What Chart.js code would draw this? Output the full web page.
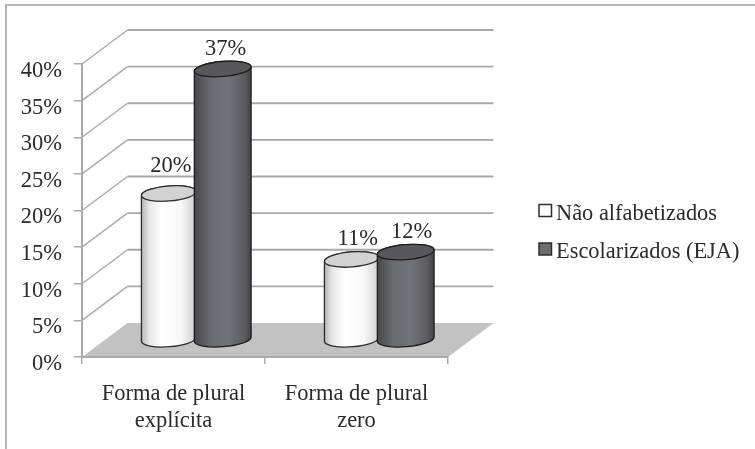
<!DOCTYPE html>
<html>
<head>
<meta charset="utf-8">
<style>
  html, body { margin: 0; padding: 0; background: #fff; }
  #wrap { width: 755px; height: 449px; }
</style>
<script src="https://cdn.jsdelivr.net/npm/chart.js@4/dist/chart.umd.js"></script>
</head>
<body>
<div id="wrap"><canvas id="barChart" width="755" height="449"></canvas></div>
<script>
const categories = [['Forma de plural', 'explícita'], ['Forma de plural', 'zero']];
const seriesNames = ['Não alfabetizados', 'Escolarizados (EJA)'];
const naoAlfabetizados = [20, 11];
const escolarizados = [37, 12];
const yTicks = [0, 5, 10, 15, 20, 25, 30, 35, 40];

const colors = {
  TEXT: '#2b2b2b',
  GRID: '#a9a9a9',
  FRAME: '#b4b4b4',
  FLOOR: '#c2c2c2'
};

// depth of the fake 3D box, columns stand half way into it
const DEPTH_X = 45.5;
const DEPTH_Y = -34;
const TILT = -4.5 * Math.PI / 180;
const CAP_RY = 7.5;

const FONT = '"Liberation Serif", serif';

// per column tweaks for the value labels: [dx, dy]
const labelNudge = [
  [[2, -7], [6, 0]],
  [[2, 0], [5, 0]]
];

const looks = [
  {
    legend: '#ffffff', cap: '#d2d2d2', line: '#2e2e2e',
    stops: [[0, '#b4b4b4'], [0.14, '#e6e6e6'], [0.36, '#ffffff'], [0.72, '#f8f8f8'], [1, '#cfcfcf']]
  },
  {
    legend: '#6d6e71', cap: '#58585a', line: '#1c1c1c',
    stops: [[0, '#47474a'], [0.28, '#6a6b6e'], [0.6, '#727377'], [0.88, '#5c5c5f'], [1, '#444446']]
  }
];

function drawCylinder(ctx, cx, top, base, rx, look) {
  const gx = Math.cos(TILT) * rx;
  const gy = Math.sin(TILT) * rx;
  const grad = ctx.createLinearGradient(cx - rx, 0, cx + rx, 0);
  look.stops.forEach(s => grad.addColorStop(s[0], s[1]));

  ctx.beginPath();
  ctx.ellipse(cx, base, rx, CAP_RY, TILT, 0, Math.PI);
  ctx.lineTo(cx - gx, top - gy);
  ctx.ellipse(cx, top, rx, CAP_RY, TILT, Math.PI, Math.PI * 2);
  ctx.closePath();
  ctx.fillStyle = grad;
  ctx.fill();
  ctx.strokeStyle = look.line;
  ctx.lineWidth = 1.3;
  ctx.stroke();

  ctx.beginPath();
  ctx.ellipse(cx, top, rx, CAP_RY, TILT, 0, Math.PI * 2);
  ctx.fillStyle = look.cap;
  ctx.fill();
  ctx.stroke();
}

const box3d = {
  id: 'box3d',
  beforeDraw(chart) {
    const { ctx, chartArea: area, scales: { y } } = chart;
    ctx.save();

    // page frame
    ctx.strokeStyle = colors.FRAME;
    ctx.lineWidth = 2;
    ctx.beginPath();
    ctx.moveTo(755, 5);
    ctx.lineTo(6, 5);
    ctx.lineTo(6, 449);
    ctx.stroke();

    // floor
    const floorY = y.getPixelForValue(0);
    ctx.fillStyle = colors.FLOOR;
    ctx.beginPath();
    ctx.moveTo(area.left, floorY);
    ctx.lineTo(area.right, floorY);
    ctx.lineTo(area.right + DEPTH_X, floorY + DEPTH_Y);
    ctx.lineTo(area.left + DEPTH_X, floorY + DEPTH_Y);
    ctx.closePath();
    ctx.fill();

    // side wall and back wall lines
    ctx.strokeStyle = colors.GRID;
    yTicks.forEach(v => {
      if (v === 0) return;
      const py = y.getPixelForValue(v);
      ctx.lineWidth = 1.4;
      ctx.beginPath();
      ctx.moveTo(area.left, py);
      ctx.lineTo(area.left + DEPTH_X, py + DEPTH_Y);
      ctx.stroke();
      ctx.lineWidth = 1.8;
      ctx.beginPath();
      ctx.moveTo(area.left + DEPTH_X, py + DEPTH_Y);
      ctx.lineTo(area.right + DEPTH_X, py + DEPTH_Y);
      ctx.stroke();
    });
    ctx.restore();
  },
  afterDatasetsDraw(chart) {
    const { ctx } = chart;
    ctx.save();
    chart.data.datasets.forEach((ds, i) => {
      chart.getDatasetMeta(i).data.forEach((bar, j) => {
        const rx = (bar.width + (i === 1 ? 2 : 0)) / 2;
        const cx = bar.x + DEPTH_X / 2 - (i === 1 ? 1 : 0);
        const top = bar.y + DEPTH_Y / 2;
        const base = bar.base + DEPTH_Y / 2;
        drawCylinder(ctx, cx, top, base, rx, looks[i]);
      });
    });
    // value labels go last so columns never cover them
    ctx.fillStyle = colors.TEXT;
    ctx.font = '22.5px ' + FONT;
    ctx.textAlign = 'center';
    ctx.textBaseline = 'middle';
    chart.data.datasets.forEach((ds, i) => {
      chart.getDatasetMeta(i).data.forEach((bar, j) => {
        const n = labelNudge[i][j];
        ctx.fillText(ds.data[j] + '%', bar.x + DEPTH_X / 2 + n[0], bar.y + DEPTH_Y / 2 - 20 + n[1]);
      });
    });
    ctx.restore();
  },
  afterDraw(chart) {
    // legend on the right, swatch close to its text
    const { ctx } = chart;
    ctx.save();
    ctx.font = '22.4px ' + FONT;
    ctx.textAlign = 'left';
    ctx.textBaseline = 'middle';
    seriesNames.forEach((name, i) => {
      const rowY = 214 + i * 38.5;
      ctx.fillStyle = looks[i].legend;
      ctx.strokeStyle = '#2e2e2e';
      ctx.lineWidth = 1.5;
      ctx.beginPath();
      ctx.rect(539, rowY - 9.5, 12.5, 12);
      ctx.fill();
      ctx.stroke();
      ctx.fillStyle = colors.TEXT;
      ctx.fillText(name, 556, rowY);
    });
    ctx.restore();
  }
};

new Chart(document.getElementById('barChart'), {
  type: 'bar',
  data: {
    labels: categories,
    datasets: [
      { label: seriesNames[0], data: naoAlfabetizados, backgroundColor: 'transparent', borderWidth: 0 },
      { label: seriesNames[1], data: escolarizados, backgroundColor: 'transparent', borderWidth: 0 }
    ]
  },
  options: {
    responsive: false,
    animation: false,
    layout: { padding: { top: 64, left: 0, right: 307, bottom: 0 } },
    datasets: { bar: { categoryPercentage: 0.6, barPercentage: 1 } },
    plugins: {
      tooltip: { enabled: false },
      legend: { display: false }
    },
    scales: {
      x: {
        afterFit: scale => { scale.height = 92; },
        grid: { drawOnChartArea: false, drawTicks: true, tickLength: 7, color: colors.GRID, lineWidth: 1.5 },
        border: { color: colors.GRID, width: 2 },
        ticks: {
          color: colors.TEXT,
          maxRotation: 0,
          autoSkip: false,
          padding: 17,
          font: { family: FONT, size: 22.5, lineHeight: '27px' }
        }
      },
      y: {
        min: 0,
        max: 40,
        afterFit: scale => { scale.width = 82; },
        afterBuildTicks: scale => { scale.ticks = yTicks.map(v => ({ value: v })); },
        grid: { drawOnChartArea: false, drawTicks: true, tickLength: 8, color: colors.GRID, lineWidth: 1.5 },
        border: { color: colors.GRID, width: 2 },
        ticks: {
          color: colors.TEXT,
          padding: 12,
          labelOffset: 7,
          font: { family: FONT, size: 22.5 },
          callback: v => v + '%'
        }
      }
    }
  },
  plugins: [box3d]
});
</script>
</body>
</html>
